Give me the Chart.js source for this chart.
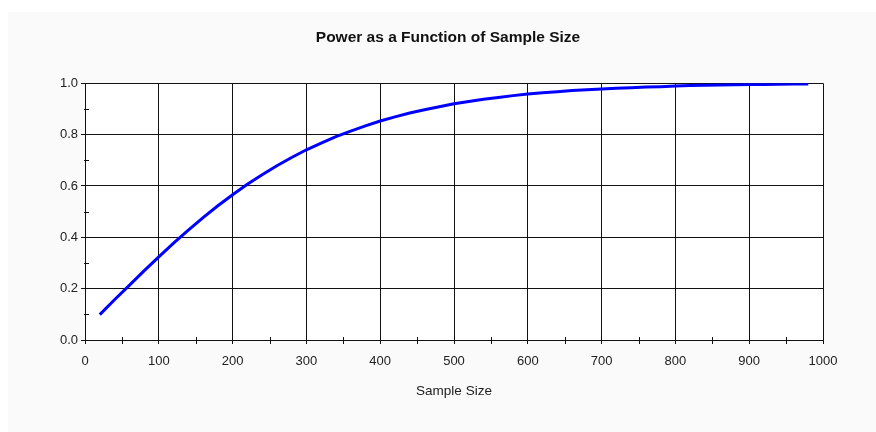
<!DOCTYPE html>
<html>
<head>
<meta charset="utf-8">
<script src="https://cdn.jsdelivr.net/npm/chart.js@4/dist/chart.umd.min.js"></script>
<style>
  html, body { margin: 0; padding: 0; background: #ffffff; }
  #wrap { width: 876px; height: 432px; }
</style>
</head>
<body>
<div id="wrap"><canvas id="c" width="876" height="432"></canvas></div>
<script>
const chartTitle = "Power as a Function of Sample Size";
const xAxisTitle = "Sample Size";
const sampleSizes = [20,40,60,80,100,120,140,160,180,200,220,240,260,280,300,320,340,360,380,400,420,440,460,480,500,520,540,560,580,600,620,640,660,680,700,720,740,760,780,800,820,840,860,880,900,920,940,960,980];
const powerValues = [0.099,0.157,0.213,0.269,0.324,0.377,0.428,0.477,0.523,0.566,0.607,0.644,0.679,0.711,0.741,0.767,0.792,0.814,0.834,0.853,0.869,0.884,0.897,0.909,0.920,0.929,0.938,0.945,0.952,0.958,0.963,0.967,0.972,0.975,0.978,0.981,0.983,0.986,0.987,0.989,0.991,0.992,0.993,0.994,0.995,0.995,0.996,0.997,0.997];
const xMinorTicks = [50,150,250,350,450,550,650,750,850,950];
const yMinorTicks = [0.1,0.3,0.5,0.7,0.9];

const points = sampleSizes.map((n, i) => ({x: n, y: powerValues[i]}));
const FONT = "'Liberation Sans', Arial, sans-serif";

const bgPlugin = {
  id: 'bg',
  beforeDraw(chart) {
    const ctx = chart.ctx, a = chart.chartArea;
    ctx.save();
    ctx.fillStyle = '#ffffff';
    ctx.fillRect(0, 0, chart.width, chart.height);
    ctx.fillStyle = '#fafafa';
    ctx.fillRect(8, 12, chart.width - 8, chart.height - 12);
    ctx.fillStyle = '#ffffff';
    ctx.fillRect(a.left, a.top, a.right - a.left, a.bottom - a.top);
    ctx.restore();
  }
};

const minorPlugin = {
  id: 'minor',
  afterDatasetsDraw(chart) {
    const ctx = chart.ctx, a = chart.chartArea;
    const xs = chart.scales.x, ys = chart.scales.y;
    ctx.save();
    ctx.strokeStyle = '#111111';
    ctx.lineWidth = 1;
    ctx.beginPath();
    yMinorTicks.forEach(v => {
      const py = Math.round(ys.getPixelForValue(v)) + 0.5;
      ctx.moveTo(Math.round(a.left) - 1, py);
      ctx.lineTo(Math.round(a.left) + 4, py);
    });
    xMinorTicks.forEach(v => {
      const px = Math.round(xs.getPixelForValue(v)) + 0.5;
      ctx.moveTo(px, Math.round(a.bottom) - 3);
      ctx.lineTo(px, Math.round(a.bottom) + 4);
    });
    ctx.stroke();
    ctx.restore();
  }
};

new Chart(document.getElementById('c'), {
  type: 'line',
  data: {
    datasets: [{
      data: points,
      borderColor: '#0000ff',
      borderWidth: 3,
      pointRadius: 0,
      tension: 0,
      fill: false
    }]
  },
  options: {
    responsive: false,
    animation: false,
    layout: { padding: { left: 20, right: 0, top: 0, bottom: 0 } },
    plugins: {
      legend: { display: false },
      tooltip: { enabled: false },
      title: {
        display: true,
        text: chartTitle,
        color: '#111111',
        font: { family: FONT, size: 15.5, weight: 'bold' },
        padding: { top: 28.4, bottom: 36.3 }
      }
    },
    scales: {
      x: {
        type: 'linear',
        min: 0, max: 1000,
        afterFit(scale) { scale.height = 92; },
        ticks: {
          stepSize: 100,
          padding: 10,
          color: '#222222',
          font: { family: FONT, size: 13 },
          callback: v => String(v)
        },
        grid: { color: '#111111', tickColor: '#111111', tickLength: 4, lineWidth: 1 },
        border: { color: '#111111', width: 1 },
        title: {
          display: true,
          text: xAxisTitle,
          color: '#222222',
          font: { family: FONT, size: 13.5 },
          padding: { top: 0, bottom: 33 }
        }
      },
      y: {
        min: 0, max: 1,
        afterFit(scale) { scale.width = 65; },
        ticks: {
          stepSize: 0.2,
          padding: 3,
          color: '#222222',
          font: { family: FONT, size: 13 },
          callback: v => Number(v).toFixed(1)
        },
        grid: { color: '#111111', tickColor: '#111111', tickLength: 4, lineWidth: 1 },
        border: { color: '#111111', width: 1 }
      },
      yRight: {
        position: 'right',
        display: true,
        min: 0, max: 1,
        afterFit(scale) { scale.width = 53; },
        ticks: { display: false },
        grid: { display: false, drawTicks: false },
        border: { display: false }
      }
    }
  },
  plugins: [bgPlugin, minorPlugin]
});
</script>
</body>
</html>
